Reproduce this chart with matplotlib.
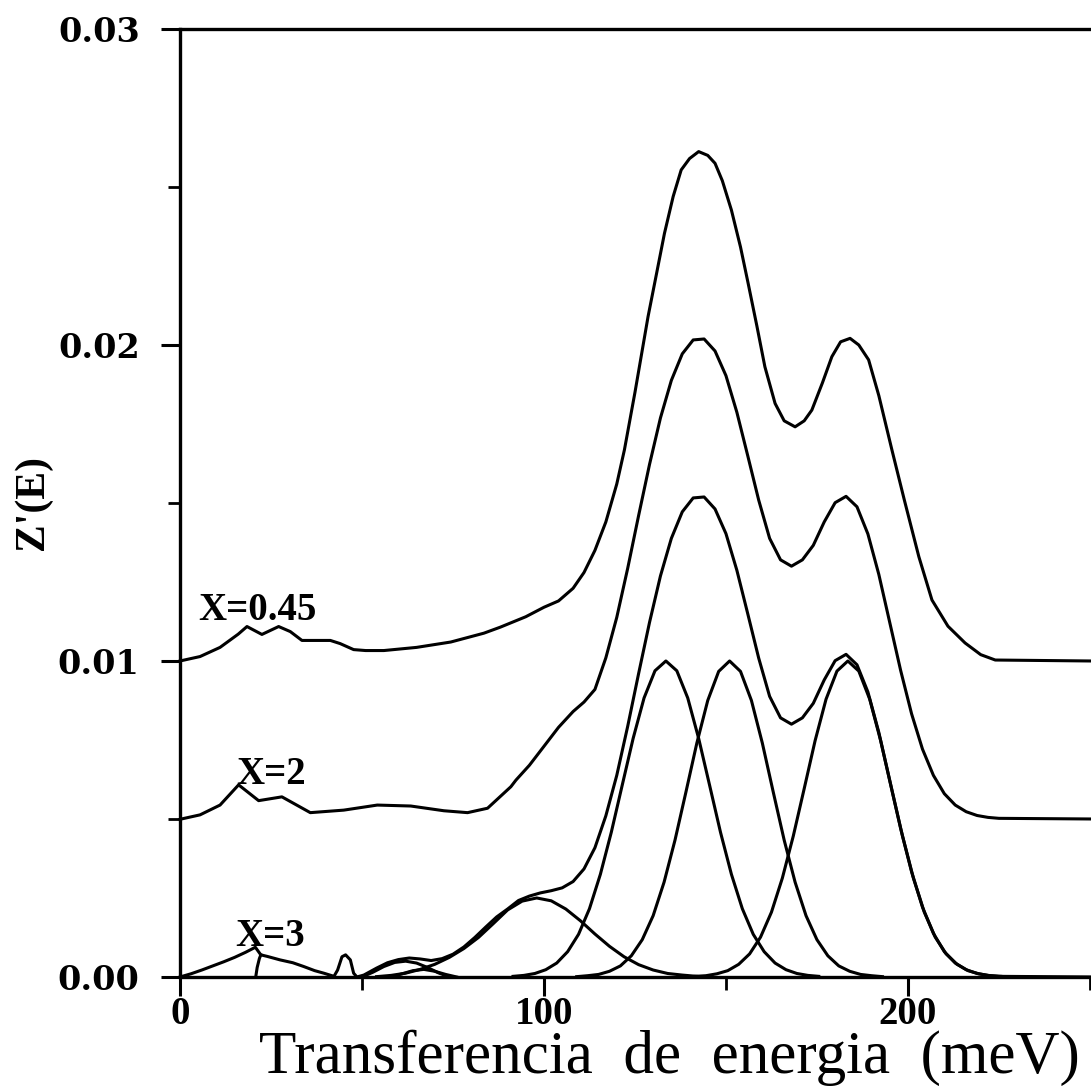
import matplotlib
matplotlib.use("Agg")
import matplotlib.pyplot as plt
from matplotlib.ticker import MultipleLocator

# ------------------------------------------------------------
# Data (energy in meV, Z'(E) in arbitrary units)
# ------------------------------------------------------------
# X = 0.45 curve (offset +0.01)
e_x045 = [0, 5.5, 11, 16, 18.4, 22.5, 27.1, 30.3, 33.5, 41.3, 44, 47.7, 51, 56,
          65, 74.4, 83.5, 88, 95, 100, 104, 108, 111, 114, 117, 120, 122.1, 125,
          128.6, 131, 133.1, 135.5, 137.7, 140, 142.5, 145, 147, 149, 151.5, 154,
          156.1, 158.5, 160.7, 163.5, 166, 169, 171.5, 173.6, 176.5, 179.1, 181.5,
          184.1, 186.5, 189.2, 192, 195.6, 199, 203, 206.6, 211, 215.7, 220, 224, 250]
z_x045 = [0.0100, 0.01014, 0.01043, 0.01085, 0.01109, 0.01084, 0.01109, 0.01093,
          0.01065, 0.01065, 0.01055, 0.01036, 0.01033, 0.01033, 0.01043, 0.0106,
          0.01088, 0.01107, 0.0114, 0.0117, 0.0119, 0.0123, 0.0128, 0.0135, 0.0144,
          0.0156, 0.01668, 0.0185, 0.0209, 0.0223, 0.02353, 0.0247, 0.02554, 0.0259,
          0.02612, 0.0260, 0.02575, 0.0252, 0.02427, 0.0231, 0.02195, 0.0206,
          0.01931, 0.01815, 0.0176, 0.01741, 0.0176, 0.01794, 0.0188, 0.01963,
          0.0201, 0.02021, 0.0200, 0.01953, 0.0184, 0.01668, 0.0151, 0.0133,
          0.01193, 0.0111, 0.01057, 0.0102, 0.01003, 0.0100]

# X = 2 curve (offset +0.005)
e_x2 = [0, 5.5, 11, 16.1, 21.6, 28, 35.8, 45, 54.2, 63.4, 72.5, 79, 84.5, 90.9,
        92.3, 96, 100, 104, 108, 111, 114, 117, 120, 123, 126, 129, 132, 135, 138,
        141, 144, 147, 150, 153, 156, 159, 162, 165, 168, 171, 174, 177, 180, 183,
        186, 189, 192, 195, 198, 201, 204, 207, 210, 213, 216, 219, 222, 225, 250]
z_x2 = [0.00499, 0.00513, 0.00544, 0.00608, 0.00558, 0.0057, 0.0052, 0.00528,
        0.00544, 0.00541, 0.00526, 0.0052, 0.00534, 0.00602, 0.00623, 0.0067,
        0.0073, 0.0079, 0.0084, 0.0087, 0.0091, 0.0101, 0.01138, 0.01293, 0.0146,
        0.01622, 0.01769, 0.01888, 0.01972, 0.02016, 0.02019, 0.01981, 0.01903,
        0.01787, 0.01649, 0.01509, 0.01388, 0.0132, 0.0130, 0.0132, 0.01366,
        0.0144, 0.01501, 0.01521, 0.01488, 0.01402, 0.01274, 0.01122, 0.0097,
        0.00833, 0.00721, 0.00638, 0.0058, 0.00544, 0.00523, 0.00511, 0.00505,
        0.00502, 0.0050]

# X = 3 total curve (no offset)
e_x3 = [0, 3, 6, 9, 12, 15, 18, 20.7, 22.2, 24, 27.5, 31, 34, 37, 39.5, 42.3,
        43.3, 44.5, 45.5, 46.8, 47.7, 48.6, 50.5, 54, 57, 60, 63, 66, 69, 72, 75,
        78, 81, 84, 87, 90, 93, 96, 99, 102, 105, 108, 111, 114, 117, 120, 123,
        126, 129, 132, 135, 138, 141, 144, 147, 150, 153, 156, 159, 162, 165, 168,
        171, 174, 177, 180, 183, 186, 189, 192, 195, 198, 201, 204, 207, 210, 213,
        216, 219, 222, 225, 250]
z_x3 = [0, 0.0001, 0.00022, 0.00035, 0.00048, 0.00062, 0.00078, 0.00094, 0.0007,
        0.00065, 0.00054, 0.00045, 0.00033, 0.0002, 0.00012, 0.00002, 0.00022,
        0.00064, 0.0007, 0.00054, 0.00012, 0, 0.00006, 0.00028, 0.00045, 0.00055,
        0.0006, 0.00057, 0.00052, 0.00058, 0.00072, 0.00095, 0.00125, 0.00158,
        0.0019, 0.00215, 0.00242, 0.00256, 0.00266, 0.00273, 0.00282, 0.00302,
        0.00342, 0.00409, 0.0051, 0.00638, 0.00793, 0.0096, 0.01122, 0.01269,
        0.01388, 0.01472, 0.01516, 0.01519, 0.01481, 0.01403, 0.01287, 0.01149,
        0.01009, 0.00888, 0.0082, 0.0080, 0.0082, 0.00866, 0.0094, 0.01001,
        0.01021, 0.00988, 0.00902, 0.00774, 0.00622, 0.0047, 0.00333, 0.00221,
        0.00138, 0.0008, 0.00044, 0.00023, 0.00011, 0.00005, 0.00002, 0]

# X = 3 individual components
e_c0 = [20.8, 21.2, 21.8, 22.2]
z_c0 = [0, 0.0003, 0.00058, 0.0007]

e_c1 = [50, 53, 56, 59, 62, 65, 68, 71, 74]
z_c1 = [0, 0.00015, 0.00033, 0.00046, 0.0005, 0.00044, 0.0003, 0.00013, 0]

e_c2 = [58, 61, 64, 67, 70, 73, 76]
z_c2 = [0, 0.0001, 0.0002, 0.00024, 0.00018, 0.00008, 0]

e_g0 = [54, 58, 62, 66, 70, 74, 78, 82, 86, 90, 94, 98, 102, 106, 110, 114, 118,
        122, 126, 130, 134, 138, 142]
z_g0 = [0.00001, 0.00005, 0.00012, 0.00024, 0.0004, 0.00062, 0.0009, 0.00125,
        0.00168, 0.00212, 0.0024, 0.0025, 0.00241, 0.00215, 0.00178, 0.00136,
        0.00097, 0.00064, 0.00039, 0.00022, 0.00011, 0.00006, 0.00002]

e_g1 = [91.5, 94.5, 97.5, 100.5, 103.5, 106.5, 109.5, 112.5, 115.5, 118.5, 121.5,
        124.5, 127.5, 130.5, 133.5, 136.5, 139.5, 142.5, 145.5, 148.5, 151.5,
        154.5, 157.5, 160.5, 163.5, 166.5, 169.5, 172.5, 175.5]
z_g1 = [0.00002, 0.00005, 0.00011, 0.00023, 0.00044, 0.0008, 0.00135, 0.00216,
        0.00325, 0.00458, 0.00607, 0.00755, 0.00883, 0.00969, 0.0100, 0.00969,
        0.00883, 0.00755, 0.00607, 0.00458, 0.00325, 0.00216, 0.00135, 0.0008,
        0.00044, 0.00023, 0.00011, 0.00005, 0.00002]

e_g2 = [109, 112, 115, 118, 121, 124, 127, 130, 133, 136, 139, 142, 145, 148, 151,
        154, 157, 160, 163, 166, 169, 172, 175, 178, 181, 184, 187, 190, 193]
z_g2 = [0.00001, 0.00004, 0.00008, 0.00018, 0.00035, 0.00067, 0.00118, 0.00194,
        0.003, 0.00433, 0.00585, 0.0074, 0.00875, 0.00967, 0.0100, 0.00967,
        0.00875, 0.0074, 0.00585, 0.00433, 0.003, 0.00194, 0.00118, 0.00067,
        0.00035, 0.00018, 0.00008, 0.00004, 0.00001]

e_g3 = [141.5, 144.5, 147.5, 150.5, 153.5, 156.5, 159.5, 162.5, 165.5, 168.5,
        171.5, 174.5, 177.5, 180.5, 183.5, 186.5, 189.5, 192.5, 195.5, 198.5,
        201.5, 204.5, 207.5, 210.5, 213.5, 216.5, 219.5, 222.5, 225.5]
z_g3 = [0.00002, 0.00004, 0.0001, 0.0002, 0.0004, 0.00073, 0.00126, 0.00205,
        0.00313, 0.00446, 0.00596, 0.00748, 0.00879, 0.00968, 0.0100, 0.00968,
        0.00879, 0.00748, 0.00596, 0.00446, 0.00313, 0.00205, 0.00126, 0.00073,
        0.0004, 0.0002, 0.0001, 0.00004, 0.00002]

labels = ["X=0.45", "X=2", "X=3"]
label_pos = [(5.0, 0.0113), (15.5, 0.0061), (15.2, 0.00098)]

# ------------------------------------------------------------
# Figure
# ------------------------------------------------------------
fig = plt.figure(figsize=(10.91, 10.86), dpi=100)
ax = fig.add_axes([0.165, 0.1004, 0.835, 0.8729])

lw = 2.2
for e, z in [(e_x045, z_x045), (e_x2, z_x2), (e_x3, z_x3),
             (e_c0, z_c0), (e_c1, z_c1), (e_c2, z_c2),
             (e_g0, z_g0), (e_g1, z_g1), (e_g2, z_g2), (e_g3, z_g3)]:
    ax.plot(e, z, color='black', lw=lw, solid_joinstyle='round', clip_on=False)

for txt, (xx, yy) in zip(labels, label_pos):
    ax.text(xx, yy, txt, ha='left', va='baseline', fontsize=28,
            family='Liberation Serif', fontweight='bold')

ax.set_xlim(0, 250.3)
ax.set_ylim(0, 0.03)

ax.spines['right'].set_visible(False)
for s in ['left', 'top', 'bottom']:
    ax.spines[s].set_linewidth(2.4)

ax.xaxis.set_major_locator(MultipleLocator(100))
ax.xaxis.set_minor_locator(MultipleLocator(50))
ax.yaxis.set_major_locator(MultipleLocator(0.01))
ax.yaxis.set_minor_locator(MultipleLocator(0.005))
ax.tick_params(axis='both', which='major', direction='out', length=14, width=2.2)
ax.tick_params(axis='both', which='minor', direction='out', length=9, width=2.0)
ax.tick_params(top=False, right=False, which='both')
ax.tick_params(axis='y', which='major', pad=15)
ax.tick_params(axis='x', which='major', pad=0)

ax.set_xticks([0, 100, 200])
ax.set_xticklabels(['0', '100', '200'], family='Liberation Serif',
                   fontweight='bold', fontsize=28)
ax.set_yticks([0, 0.01, 0.02, 0.03])
ax.set_yticklabels(['0.00', '0.01', '0.02', '0.03'], family='DejaVu Serif',
                   fontweight='bold', fontsize=24)

ax.set_xlabel('Transferencia  de  energia  (meV)', family='Liberation Serif',
              fontsize=44)
ax.xaxis.set_label_coords(0.537, -0.1015)
ax.xaxis.label.set_va('baseline')

ax.set_ylabel("Z'(E)", family='Liberation Serif', fontweight='bold', fontsize=30)
ax.yaxis.set_label_coords(-0.14, 0.5)

fig.savefig('out.png', dpi=100)
